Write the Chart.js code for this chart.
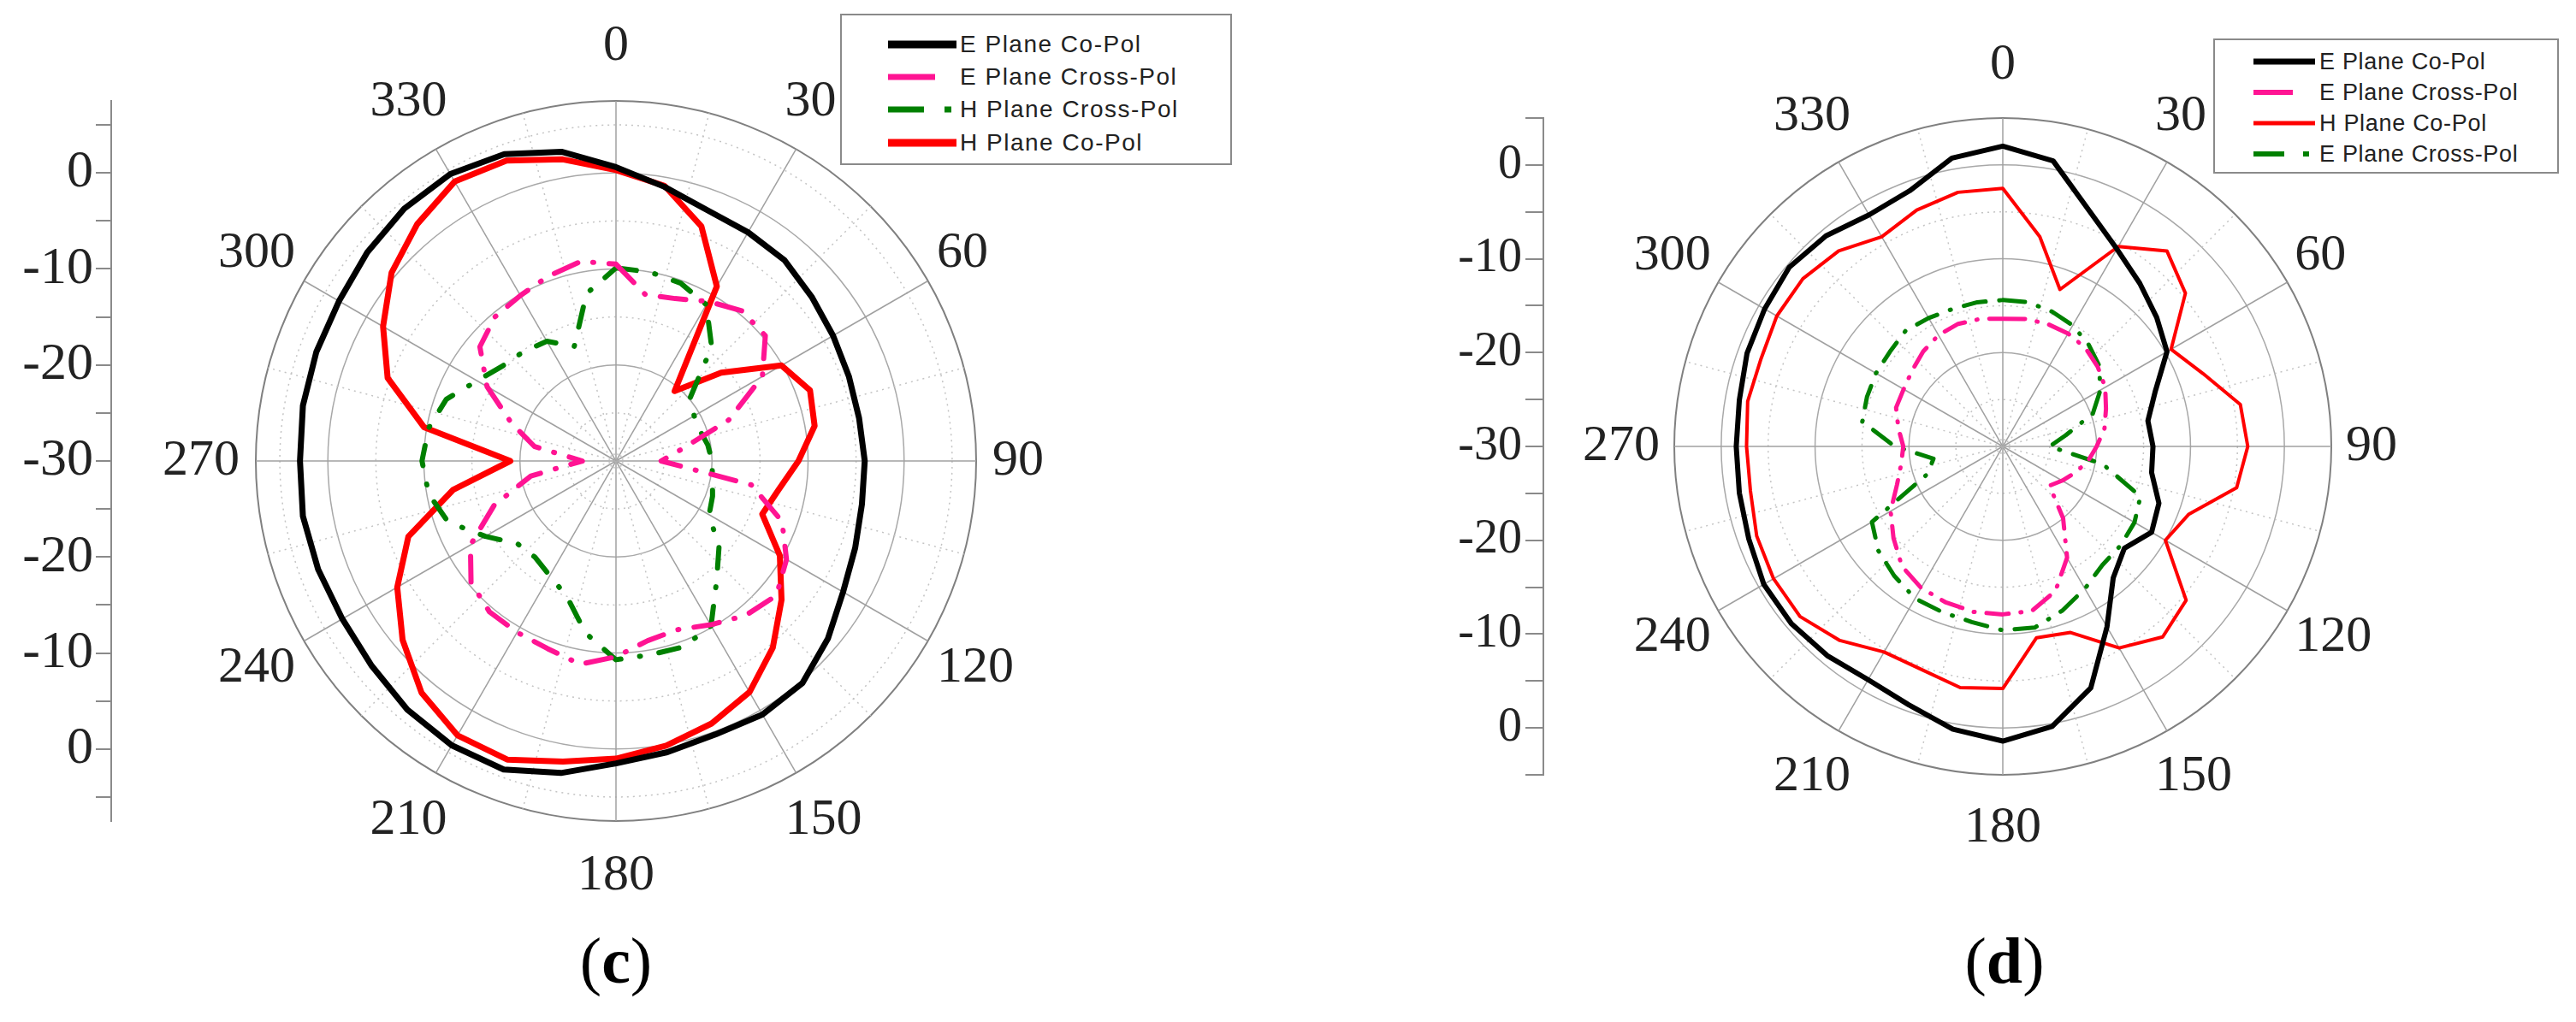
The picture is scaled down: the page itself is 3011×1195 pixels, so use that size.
<!DOCTYPE html>
<html>
<head>
<meta charset="utf-8">
<script src="https://cdn.jsdelivr.net/npm/chart.js@4.4.0/dist/chart.umd.min.js"></script>
<style>
  html, body { margin: 0; padding: 0; background: #fff; }
  #page { position: relative; width: 3011px; height: 1195px; overflow: hidden; }
  canvas { position: absolute; top: 0; }
  .legend { position: absolute; box-sizing: border-box; border: 2px solid #8a8a8a; background: #fff; }
  .item { position: absolute; font-family: "Liberation Sans", Arial, sans-serif; color: #222; white-space: nowrap; }
  .sub { position: absolute; font-family: "Liberation Serif", "Times New Roman", serif; font-size: 76px; color: #000; transform: translate(-50%, -50%); }
</style>
</head>
<body>
<div id="page">
  <canvas id="chartC" width="1480" height="1195" style="left:0px"></canvas>
  <canvas id="chartD" width="1451" height="1195" style="left:1560px"></canvas>
  <div class="sub" style="left:720px; top:1123px">(<b>c</b>)</div>
  <div class="sub" style="left:2343px; top:1123px">(<b>d</b>)</div>
</div>
<script>
// angle categories every 5 deg (spokes at 30, dotted at 15), data read every 10 deg
const angles = Array.from({ length: 72 }, (_, i) => i * 5);
const angleTicks = [0, 30, 60, 90, 120, 150, 180, 210, 240, 270, 300, 330];

// (c) values in dB at 0,10,...,350 deg
const cEPlaneCoPol = [0.6, -1.0, -2.2, -2.5, -2.7, -3.4, -3.9, -4.2, -4.3, -4.1, -4.0, -3.5,
  -2.7, -1.2, 0.2, 0.5, 0.3, 0.8, 1.5, 3.0, 4.2, 4.2, 3.8, 3.2,
  2.9, 3.0, 3.1, 2.9, 3.1, 3.2, 3.3, 3.8, 4.3, 4.5, 4.0, 2.7];
const cEPlaneCrossPol = [-9.5, -12.4, -12.0, -10.8, -9.6, -9.7, -12.4, -17.5, -23.1, -25.3, -15.7, -11.6,
  -9.5, -8.2, -9.0, -10.3, -11.3, -11.0, -9.6, -8.5, -9.2, -9.4, -9.5, -10.3,
  -12.5, -16.5, -21.0, -26.5, -21.4, -18.4, -14.5, -11.5, -10.4, -10.1, -9.5, -8.9];
const cHPlaneCrossPol = [-9.9, -10.0, -10.3, -11.2, -14.5, -20.0, -20.6, -20.7, -20.3, -20.0, -19.8, -19.3,
  -18.8, -16.0, -13.7, -10.2, -9.4, -9.5, -9.3, -11.8, -15.0, -16.2, -16.9, -16.6,
  -14.3, -11.4, -10.2, -9.8, -10.2, -11.2, -13.3, -14.6, -15.1, -15.6, -17.3, -12.3];
const cHPlaneCoPol = [0.3, -0.9, -4.0, -9.0, -20.5, -15.7, -10.1, -8.5, -9.0, -11.0, -12.8, -13.8,
  -10.3, -7.5, -4.6, -2.2, -0.9, 0.1, 1.0, 1.8, 3.1, 3.0, 1.5, -1.0,
  -3.7, -7.0, -12.8, -19.0, -9.7, -4.7, -2.0, 0.5, 2.2, 3.6, 3.3, 1.9];

// (d) values in dB at 0,10,...,350 deg
const dEPlaneCoPol = [2.0, 0.9, -3.2, -5.7, -7.3, -8.6, -9.8, -12.7, -14.3, -14.0, -13.9, -12.3,
  -11.7, -13.1, -11.7, -7.8, -2.6, 0.3, 1.4, 0.6, -0.7, -1.3, -0.9, -0.6,
  -0.6, -1.2, -1.5, -1.6, -1.5, -1.0, -0.7, -0.3, -0.7, -1.5, -1.0, 1.2];
const dEPlaneCrossPol = [-16.4, -16.2, -16.1, -16.1, -16.3, -16.8, -17.4, -18.3, -19.0, -20.0, -20.8, -21.8,
  -22.7, -23.5, -20.0, -16.3, -13.6, -12.2, -12.1, -12.1, -12.3, -12.6, -13.3, -14.8,
  -16.2, -18.0, -19.0, -19.4, -18.7, -17.9, -17.8, -17.4, -16.8, -16.3, -16.1, -16.2];
const dHPlaneCoPol = [-2.5, -7.3, -12.2, -5.4, -2.8, -4.6, -9.3, -7.3, -4.3, -3.9, -4.7, -8.9,
  -10.0, -4.5, -3.5, -5.2, -8.9, -9.3, -4.2, -3.9, -4.7, -4.7, -3.0, -1.8,
  -1.8, -2.1, -2.7, -2.7, -2.4, -2.6, -2.2, -2.2, -2.8, -4.2, -3.2, -2.5];
const dGreenCrossPol = [-14.4, -14.4, -14.7, -15.1, -15.8, -16.6, -18.0, -19.8, -23.2, -25.0, -19.2, -14.4,
  -13.8, -13.6, -13.5, -12.5, -11.4, -10.4, -10.4, -11.0, -11.2, -11.3, -12.0, -12.7,
  -13.9, -21.5, -22.5, -18.5, -14.8, -14.6, -14.4, -14.3, -13.9, -14.2, -14.4, -14.4];

// radial rings and left-axis ticks
const cRings = [-30, -25, -20, -15, -10, -5, 0, 5, 7.5];
const dRings = [-30, -25, -20, -15, -10, -5, 0, 5];
const axisTicks = [-35, -30, -25, -20, -15, -10, -5, 0, 5, 10, 15, 20, 25, 30, 35];

function series(label, values, color, width, dash, legendDash) {
  return {
    label: label,
    data: angles.map(a => (a % 10 === 0 ? values[a / 10] : null)),
    borderColor: color,
    backgroundColor: color,
    borderWidth: width,
    borderDash: dash,
    borderCapStyle: dash.length ? 'round' : 'butt',
    borderJoinStyle: 'round',
    fill: false,
    pointRadius: 0,
    pointHoverRadius: 0,
    spanGaps: true,
    tension: 0,
    legendDash: legendDash
  };
}

// angle labels: centred at 0/180, otherwise aligned like Origin (left on the right half, right on the left half)
const angleLabelPlugin = {
  id: 'angleLabels',
  afterDraw(chart, args, opts) {
    const r = chart.scales.r;
    const ctx = chart.ctx;
    ctx.save();
    ctx.font = opts.font;
    ctx.fillStyle = opts.color;
    ctx.textBaseline = 'middle';
    const halfW = ctx.measureText('000').width / 2;
    opts.ticks.forEach(a => {
      const i = chart.data.labels.indexOf(a);
      const p = r.getPointPosition(i, r.drawingArea + opts.offset);
      let x = p.x;
      let align = 'center';
      if (a > 0 && a < 180) { align = 'left'; x = p.x - halfW; }
      else if (a > 180) { align = 'right'; x = p.x + halfW; }
      ctx.textAlign = align;
      ctx.fillText(String(a), x, p.y);
    });
    ctx.restore();
  }
};

function makePolar(id, cfg) {
  const rMax = cfg.rings[cfg.rings.length - 1];
  const half = rMax + 30;
  return new Chart(document.getElementById(id), {
    type: 'radar',
    data: { labels: angles, datasets: cfg.datasets },
    plugins: [angleLabelPlugin],
    options: {
      responsive: false,
      animation: false,
      events: [],
      layout: { padding: cfg.padding },
      scales: {
        r: {
          min: -30,
          max: rMax,
          afterBuildTicks: s => { s.ticks = cfg.rings.map(v => ({ value: v })); },
          ticks: { display: false },
          pointLabels: { display: false },
          grid: {
            circular: true,
            color: c => (c.tick.value === rMax ? '#808080' : c.tick.value % 10 === 0 ? '#a8a8a8' : '#c4c4c4'),
            lineWidth: c => (c.tick.value === rMax ? 2 : 1.5),
            borderDash: c => (c.tick.value === rMax || c.tick.value % 10 === 0 ? [] : [2, 5])
          },
          border: {
            dash: c => (c.tick.value === rMax || c.tick.value % 10 === 0 ? [] : [2, 5])
          },
          angleLines: {
            color: c => (angles[c.index] % 30 === 0 ? '#a0a0a0' : angles[c.index] % 15 === 0 ? '#c4c4c4' : 'rgba(0,0,0,0)'),
            lineWidth: c => (angles[c.index] % 15 === 0 ? 1.5 : 0),
            borderDash: c => (angles[c.index] % 30 === 0 ? [] : [2, 5])
          }
        },
        y: {
          type: 'linear',
          position: 'left',
          min: -half,
          max: half,
          afterBuildTicks: s => { s.ticks = axisTicks.map(v => ({ value: v })); },
          afterFit: s => { s.width = cfg.axisWidth; },
          ticks: {
            autoSkip: false,
            padding: cfg.tickPadding,
            color: '#222',
            font: { family: '"Liberation Serif", "Times New Roman", serif', size: cfg.axisFont },
            callback: v => (v % 10 === 0 ? String(Math.abs(v) - 30) : '')
          },
          grid: { drawOnChartArea: false, tickLength: cfg.tickLength, color: '#8a8a8a', lineWidth: 2 },
          border: { color: '#8a8a8a', width: 2 }
        }
      },
      plugins: {
        legend: { display: false },
        tooltip: { enabled: false },
        angleLabels: {
          ticks: angleTicks,
          offset: cfg.labelOffset,
          font: '60px "Liberation Serif", "Times New Roman", serif',
          color: '#222'
        }
      }
    }
  });
}

function buildLegend(chart, box) {
  const page = document.getElementById('page');
  const div = document.createElement('div');
  div.className = 'legend';
  div.style.left = box.left + 'px';
  div.style.top = box.top + 'px';
  div.style.width = box.width + 'px';
  div.style.height = box.height + 'px';
  page.appendChild(div);
  chart.data.datasets.forEach((ds, i) => {
    const y = box.rows[i];
    const svg = document.createElementNS('http://www.w3.org/2000/svg', 'svg');
    svg.setAttribute('width', box.sampleWidth);
    svg.setAttribute('height', 14);
    svg.style.position = 'absolute';
    svg.style.left = box.sampleX + 'px';
    svg.style.top = (y - 7) + 'px';
    const line = document.createElementNS('http://www.w3.org/2000/svg', 'line');
    line.setAttribute('x1', 0);
    line.setAttribute('x2', box.sampleWidth);
    line.setAttribute('y1', 7);
    line.setAttribute('y2', 7);
    line.setAttribute('stroke', ds.borderColor);
    line.setAttribute('stroke-width', ds.legendDash.width);
    if (ds.legendDash.dash) line.setAttribute('stroke-dasharray', ds.legendDash.dash);
    svg.appendChild(line);
    page.appendChild(svg);
    const t = document.createElement('div');
    t.className = 'item';
    t.textContent = ds.label;
    t.style.left = box.textX + 'px';
    t.style.top = (y - 20) + 'px';
    t.style.height = '40px';
    t.style.lineHeight = '40px';
    t.style.fontSize = box.fontSize + 'px';
    t.style.letterSpacing = box.letterSpacing + 'px';
    page.appendChild(t);
  });
}

const chartC = makePolar('chartC', {
  rings: cRings,
  padding: { left: 0, top: 118, right: 170, bottom: 235 },
  axisWidth: 130,
  tickLength: 18,
  tickPadding: 3,
  axisFont: 62,
  labelOffset: 64,
  datasets: [
    series('E Plane Co-Pol', cEPlaneCoPol, '#000000', 7, [], { width: 9 }),
    series('E Plane Cross-Pol', cEPlaneCrossPol, '#ff1493', 6, [30, 18, 1, 18], { width: 7, dash: '55 200' }),
    series('H Plane Cross-Pol', cHPlaneCrossPol, '#008000', 6, [24, 22, 1, 22], { width: 7, dash: '42 24 8 200' }),
    series('H Plane Co-Pol', cHPlaneCoPol, '#ff0000', 7, [], { width: 9 })
  ]
});

const chartD = makePolar('chartD', {
  rings: dRings,
  padding: { left: 0, top: 138, right: 133, bottom: 289 },
  axisWidth: 244,
  tickLength: 21,
  tickPadding: 4,
  axisFont: 56,
  labelOffset: 62,
  datasets: [
    series('E Plane Co-Pol', dEPlaneCoPol, '#000000', 6, [], { width: 7 }),
    series('E Plane Cross-Pol', dEPlaneCrossPol, '#ff1493', 5, [26, 14, 1, 14], { width: 6, dash: '46 200' }),
    series('H Plane Co-Pol', dHPlaneCoPol, '#ff0000', 4, [], { width: 5 }),
    series('E Plane Cross-Pol', dGreenCrossPol, '#008000', 5, [26, 16, 1, 16], { width: 6, dash: '36 22 7 200' })
  ]
});

buildLegend(chartC, { left: 982, top: 16, width: 458, height: 177, rows: [52, 90, 128, 167],
  sampleX: 1038, sampleWidth: 80, textX: 1122, fontSize: 28, letterSpacing: 1.5 });
buildLegend(chartD, { left: 2587, top: 45, width: 404, height: 158, rows: [72, 108, 144, 180],
  sampleX: 2634, sampleWidth: 72, textX: 2711, fontSize: 27, letterSpacing: 0.7 });
</script>
</body>
</html>
